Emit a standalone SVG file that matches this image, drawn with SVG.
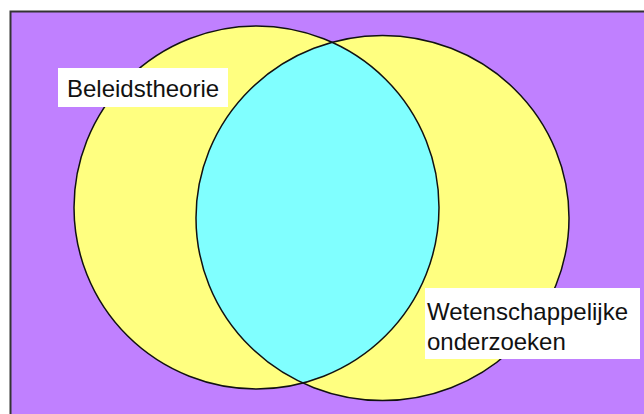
<svg xmlns="http://www.w3.org/2000/svg" width="644" height="414" viewBox="0 0 644 414">
<style>
.lbl{font-family:"Liberation Sans",Arial,sans-serif;font-size:24px;fill:#111}
.box{fill:#fff}
.out{fill:none;stroke:#111;stroke-width:1.5}
</style>
<defs>
<clipPath id="clipR"><ellipse cx="382.5" cy="218" rx="186.5" ry="182.5"/></clipPath>
</defs>
<rect x="0" y="0" width="644" height="414" fill="#fff"/>
<rect x="10.5" y="11.5" width="640" height="410" fill="#C080FF" stroke="#333" stroke-width="2"/>
<g id="beleidstheorie">
<ellipse cx="256.5" cy="207.5" rx="182.5" ry="181.5" fill="#FFFF80"/>
</g>
<g id="wetenschappelijke-onderzoeken">
<ellipse cx="382.5" cy="218" rx="186.5" ry="182.5" fill="#FFFF80"/>
</g>
<g id="overlap">
<ellipse cx="256.5" cy="207.5" rx="182.5" ry="181.5" fill="#80FFFF" clip-path="url(#clipR)"/>
</g>
<g id="outlines">
<ellipse class="out" cx="256.5" cy="207.5" rx="182.5" ry="181.5"/>
<ellipse class="out" cx="382.5" cy="218" rx="186.5" ry="182.5"/>
</g>
<g id="label-beleidstheorie">
<rect class="box" x="58" y="68" width="170" height="39"/>
<text class="lbl" x="67" y="97">Beleidstheorie</text>
</g>
<g id="label-wetenschappelijke">
<rect class="box" x="425" y="288" width="215" height="71"/>
<text class="lbl" x="427" y="320">Wetenschappelijke</text>
<text class="lbl" x="427" y="350">onderzoeken</text>
</g>
</svg>
